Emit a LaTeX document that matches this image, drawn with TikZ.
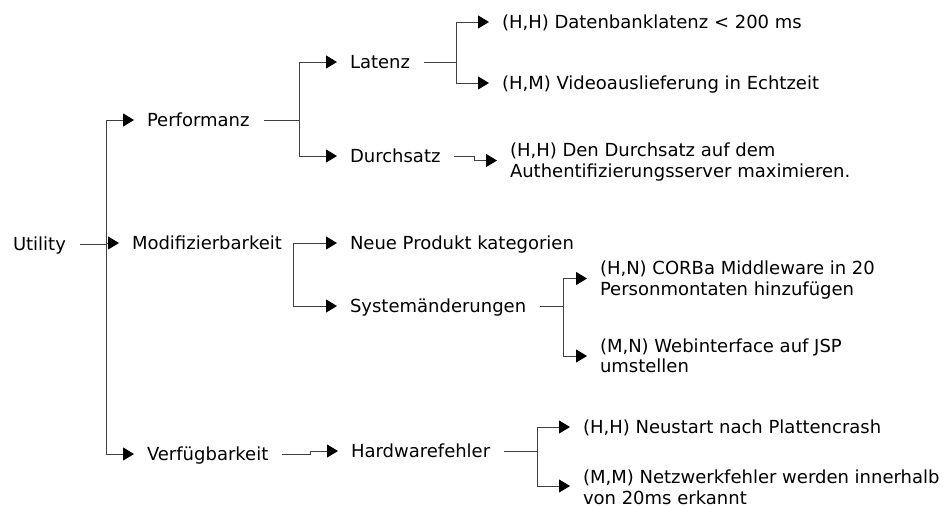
\documentclass[tikz,border=0pt]{standalone}
\usepackage{fontspec}
\setmainfont{DejaVu Sans}
\usetikzlibrary{arrows.meta}
\begin{document}
\begin{tikzpicture}[x=1pt,y=-1pt,
  lbl/.style={inner sep=0pt, outer sep=0pt, anchor=west,
    font=\fontsize{18}{20.7}\selectfont, text height=13.1pt, text depth=0pt},
  lbl2/.style={lbl, align=left, text height=33.8pt},
  link/.style={line width=1pt, draw=black!75},
  arr/.style={link, -{Triangle[length=11pt,width=13pt,color=black,fill=black]}, shorten >=13pt},
  from/.style={shorten <=14pt}]
\useasboundingbox (0,0) rectangle (946,506);

% tree nodes
\node[lbl] (utility) at (13,244) {Utility};
\node[lbl] (perf) at (147,120) {Performanz};
\node[lbl] (mod) at (132,243) {Modifizierbarkeit};
\node[lbl] (verf) at (147,454) {Verfügbarkeit};
\node[lbl] (lat) at (350,62) {Latenz};
\node[lbl] (dur) at (350,156) {Durchsatz};
\node[lbl] (l1) at (502,22) {(H,H) Datenbanklatenz < 200 ms};
\node[lbl] (l2) at (502,83) {(H,M) Videoauslieferung in Echtzeit};
\node[lbl2] (d1) at (510,160.5) {(H,H) Den Durchsatz auf dem\\Authentifizierungsserver maximieren.};
\node[lbl] (neu) at (350,243) {Neue Produkt kategorien};
\node[lbl] (sys) at (350,306) {Systemänderungen};
\node[lbl2] (s1) at (600,278.5) {(H,N) CORBa Middleware in 20\\Personmontaten hinzufügen};
\node[lbl2] (s2) at (600,356) {(M,N) Webinterface auf JSP\\umstellen};
\node[lbl] (hw) at (351,451) {Hardwarefehler};
\node[lbl] (h1) at (583,427) {(H,H) Neustart nach Plattencrash};
\node[lbl2] (h2) at (583,487.5) {(M,M) Netzwerkfehler werden innerhalb\\von 20ms erkannt};

% branch columns
\coordinate (tU) at (106,0);
\coordinate (tP) at (299,0);
\coordinate (tL) at (456,0);
\coordinate (tD) at (474,0);
\coordinate (tM) at (293,0);
\coordinate (tS) at (563,0);
\coordinate (tV) at (310,0);
\coordinate (tH) at (537,0);
% the last leaf is entered just below its first line
\coordinate (h2in) at ([yshift=1.5pt]h2.west);

% Utility
\draw[link, from] (utility.east) -- (tU |- utility.east);
\draw[link] (tU |- perf.west) -- (tU |- verf.west);
\draw[arr] (tU |- perf.west) -- (perf.west);
\draw[arr] (tU |- mod.west) -- (mod.west);
\draw[arr] (tU |- verf.west) -- (verf.west);

% Performanz
\draw[link, from] (perf.east) -- (tP |- perf.west);
\draw[link] (tP |- lat.west) -- (tP |- dur.west);
\draw[arr] (tP |- lat.west) -- (lat.west);
\draw[arr] (tP |- dur.west) -- (dur.west);

% Latenz
\draw[link, from] (lat.east) -- (tL |- lat.west);
\draw[link] (tL |- l1.west) -- (tL |- l2.west);
\draw[arr] (tL |- l1.west) -- (l1.west);
\draw[arr] (tL |- l2.west) -- (l2.west);

% Durchsatz
\draw[arr, from] (dur.east) -- (tD |- dur.west) |- (d1.west);

% Modifizierbarkeit
\draw[link] (tM |- neu.west) -- (tM |- sys.west);
\draw[arr] (tM |- neu.west) -- (neu.west);
\draw[arr] (tM |- sys.west) -- (sys.west);

% Systemaenderungen
\draw[link, from] (sys.east) -- (tS |- sys.west);
\draw[link] (tS |- s1.west) -- (tS |- s2.west);
\draw[arr] (tS |- s1.west) -- (s1.west);
\draw[arr] (tS |- s2.west) -- (s2.west);

% Verfuegbarkeit
\draw[arr, from] (verf.east) -- (tV |- verf.west) |- (hw.west);

% Hardwarefehler
\draw[link, from] (hw.east) -- (tH |- hw.west);
\draw[link] (tH |- h1.west) -- (tH |- h2in);
\draw[arr] (tH |- h1.west) -- (h1.west);
\draw[arr] (tH |- h2in) -- (h2in);
\end{tikzpicture}
\end{document}
